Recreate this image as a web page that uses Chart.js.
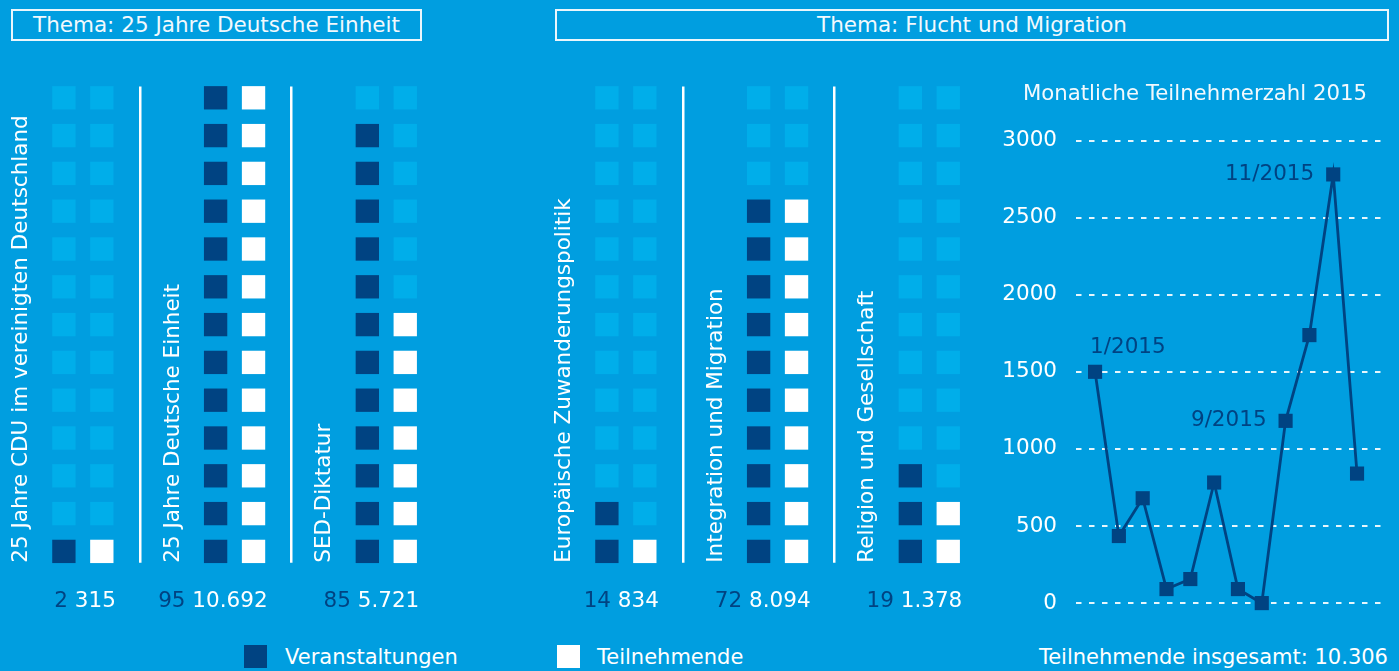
<!DOCTYPE html>
<html lang="de">
<head>
<meta charset="utf-8">
<title>Veranstaltungen und Teilnehmende</title>
<script src="https://cdn.jsdelivr.net/npm/chart.js@4.4.1/dist/chart.umd.min.js"></script>
<style>
  html, body { margin: 0; padding: 0; }
  body {
    width: 1399px; height: 671px; position: relative; overflow: hidden;
    background: #009ee0; color: #fff;
    font-family: "DejaVu Sans", Verdana, sans-serif;
  }
  .thema {
    position: absolute; top: 9px; height: 32px; box-sizing: border-box;
    border: 2px solid #eaf6fc; text-align: center;
    font-size: 21.5px; line-height: 28px; color: #f2f9fd;
  }
  .wrap { position: absolute; }
  .legend { position: absolute; top: 645px; height: 23px; font-size: 21px; line-height: 25px; }
  .swatch { position: absolute; top: 645px; width: 23px; height: 23px; }
  #total { position: absolute; right: 11px; top: 645px; font-size: 21px; line-height: 25px; }
</style>
</head>
<body>
<div class="thema" style="left:11px;width:411px;">Thema: 25 Jahre Deutsche Einheit</div>
<div class="thema" style="left:555px;width:834px;">Thema: Flucht und Migration</div>

<div class="wrap" style="left:7px;top:60px;width:531px;height:567px;"><canvas id="einheit"></canvas></div>
<div class="wrap" style="left:550px;top:60px;width:531px;height:567px;"><canvas id="migration"></canvas></div>
<div class="wrap" style="left:1002px;top:60px;width:397px;height:575px;"><canvas id="monate"></canvas></div>

<div class="swatch" style="left:244px;background:#004382;"></div>
<div class="legend" style="left:285px;">Veranstaltungen</div>
<div class="swatch" style="left:557px;background:#fff;"></div>
<div class="legend" style="left:597px;">Teilnehmende</div>
<div id="total">Teilnehmende insgesamt: 10.306</div>

<script>
// --- data ---
const ROWS = 13;

const einheitThemen = ['25 Jahre CDU im vereinigten Deutschland', '25 Jahre Deutsche Einheit', 'SED-Diktatur'];
const einheitVeranstaltungen = [2, 95, 85];
const einheitTeilnehmende = [315, 10692, 5721];
const einheitKaestchenV = [1, 13, 12];   // filled dark squares
const einheitKaestchenT = [1, 13, 7];    // filled white squares

const migrationThemen = ['Europäische Zuwanderungspolitik', 'Integration und Migration', 'Religion und Gesellschaft'];
const migrationVeranstaltungen = [14, 72, 19];
const migrationTeilnehmende = [834, 8094, 1378];
const migrationKaestchenV = [2, 10, 3];
const migrationKaestchenT = [1, 10, 2];

const monate = [1, 2, 3, 4, 5, 6, 7, 8, 9, 10, 11, 12];
const teilnehmer2015 = [1500, 435, 680, 91, 156, 782, 91, 0, 1182, 1738, 2780, 840];
const markierteMonate = [1, 9, 11];

const DARK = '#004382';
const LIGHT = '#00aeea';
const FONT = '"DejaVu Sans", Verdana, sans-serif';

function fmt(n) {
  return String(n).replace(/\B(?=(\d{3})+(?!\d))/g, '.');
}

// waffle chart: x = group*4 + column, y = row
function makeWaffle(id, themen, veranst, teiln, nV, nT) {
  const light = [], dark = [], white = [];
  themen.forEach((_, g) => {
    for (let r = 0; r < ROWS; r++) {
      (r < nV[g] ? dark : light).push({ x: g * 4, y: r });
      (r < nT[g] ? white : light).push({ x: g * 4 + 1, y: r });
    }
  });

  const textPlugin = {
    id: 'waffleText',
    afterDatasetsDraw(chart) {
      const ctx = chart.ctx;
      const xs = chart.scales.x, ys = chart.scales.y;
      ctx.save();
      // separators
      ctx.strokeStyle = '#fff';
      ctx.lineWidth = 2.5;
      for (let g = 1; g < themen.length; g++) {
        const x = Math.round(xs.getPixelForValue(g * 4 - 2)) + 0.25;
        ctx.beginPath();
        ctx.moveTo(x, ys.getPixelForValue(-0.3));
        ctx.lineTo(x, ys.getPixelForValue(12.3));
        ctx.stroke();
      }
      // rotated topic labels
      ctx.font = '21.5px ' + FONT;
      ctx.fillStyle = '#fff';
      themen.forEach((t, g) => {
        ctx.save();
        ctx.translate(xs.getPixelForValue(g * 4 - 1.12), ys.getPixelForValue(-0.3));
        ctx.rotate(-Math.PI / 2);
        ctx.textAlign = 'left';
        ctx.textBaseline = 'middle';
        ctx.fillText(t, 0, 0);
        ctx.restore();
      });
      // numbers below: "events participants", right-aligned under the white column
      ctx.textAlign = 'right';
      ctx.textBaseline = 'middle';
      themen.forEach((_, g) => {
        const a = String(veranst[g]), b = fmt(teiln[g]);
        const right = xs.getPixelForValue(g * 4 + 1.37);
        const y = ys.getPixelForValue(-1.33);
        const wb = ctx.measureText(' ' + b).width;
        ctx.fillStyle = '#fff';
        ctx.fillText(b, right, y);
        ctx.fillStyle = DARK;
        ctx.fillText(a, right - wb, y);
      });
      ctx.restore();
    }
  };

  const sq = { pointStyle: 'rect', pointRadius: 16.5, borderWidth: 0, showLine: false, clip: false };
  return new Chart(document.getElementById(id), {
    type: 'scatter',
    data: {
      datasets: [
        Object.assign({ data: light, backgroundColor: LIGHT }, sq),
        Object.assign({ data: dark, backgroundColor: DARK }, sq),
        Object.assign({ data: white, backgroundColor: '#fff' }, sq)
      ]
    },
    options: {
      responsive: true, maintainAspectRatio: false, animation: false, events: [],
      layout: { padding: 0, autoPadding: false },
      plugins: { legend: { display: false }, tooltip: { enabled: false } },
      scales: {
        x: { type: 'linear', min: -1.5, max: 12.5, display: false },
        y: { type: 'linear', min: -2, max: 13, display: false }
      }
    },
    plugins: [textPlugin]
  });
}

makeWaffle('einheit', einheitThemen, einheitVeranstaltungen, einheitTeilnehmende, einheitKaestchenV, einheitKaestchenT);
makeWaffle('migration', migrationThemen, migrationVeranstaltungen, migrationTeilnehmende, migrationKaestchenV, migrationKaestchenT);

// monthly line chart
const labelPlugin = {
  id: 'monthLabels',
  afterDatasetsDraw(chart) {
    const ctx = chart.ctx;
    const meta = chart.getDatasetMeta(0);
    ctx.save();
    ctx.font = '21.5px ' + FONT;
    ctx.fillStyle = DARK;
    ctx.textBaseline = 'middle';
    markierteMonate.forEach(m => {
      const pt = meta.data[monate.indexOf(m)];
      const txt = m + '/2015';
      if (m === 1) {
        ctx.textAlign = 'left';
        ctx.fillText(txt, pt.x - 5, pt.y - 24);
      } else {
        ctx.textAlign = 'right';
        ctx.fillText(txt, pt.x - 19, pt.y);
      }
    });
    ctx.restore();
  }
};

new Chart(document.getElementById('monate'), {
  type: 'line',
  data: {
    datasets: [{
      data: monate.map((m, i) => ({ x: m, y: teilnehmer2015[i] })),
      borderColor: DARK,
      borderWidth: 2.8,
      backgroundColor: DARK,
      pointStyle: 'rect',
      pointRadius: 10,
      pointBorderWidth: 0,
      tension: 0,
      clip: false
    }]
  },
  options: {
    responsive: true, maintainAspectRatio: false, animation: false, events: [],
    layout: { padding: { left: 0, right: 11, top: 0, bottom: 17 }, autoPadding: false },
    plugins: {
      legend: { display: false },
      tooltip: { enabled: false },
      title: {
        display: true,
        text: 'Monatliche Teilnehmerzahl 2015',
        color: '#f2f9fd',
        font: { family: FONT, size: 21.25, weight: 'normal' },
        padding: { top: 22, bottom: 33 }
      }
    },
    scales: {
      x: { type: 'linear', min: 0.2, max: 13.3, display: false },
      y: {
        min: 0, max: 3000,
        afterFit(scale) { scale.width = 74; },
        ticks: {
          stepSize: 500, color: '#fff', padding: 19,
          font: { family: FONT, size: 21.5 },
          callback: v => String(v)
        },
        grid: { color: 'rgba(255,255,255,0.9)', lineWidth: 2, drawTicks: false },
        border: { display: false, dash: [5.5, 7.5] }
      }
    }
  },
  plugins: [labelPlugin]
});
</script>
</body>
</html>
